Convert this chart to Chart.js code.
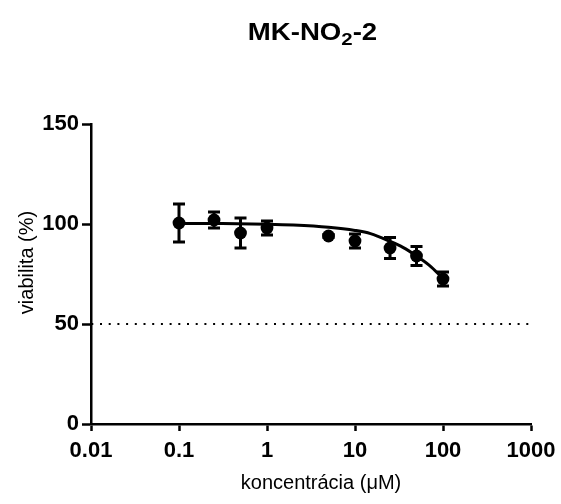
<!DOCTYPE html>
<html><head><meta charset="utf-8">
<script src="https://cdn.jsdelivr.net/npm/chart.js@4.4.1/dist/chart.umd.min.js"></script>
<style>html,body{margin:0;padding:0;background:#fff}#wrap{width:561px;height:504px}</style>
</head><body><div id="wrap"><canvas id="c" width="561" height="504"></canvas></div>
<script>
// ---- data ----
const titleParts = ['MK-NO', '2', '-2'];          // main, subscript, rest
const xAxisTitle = 'koncentrácia (μM)';
const yAxisTitle = 'viabilita (%)';
const concentrations = [0.1, 0.25, 0.5, 1, 5, 10, 25, 50, 100];
const viabilityMean  = [100.5, 102, 95.5, 98, 94, 91.5, 88, 84, 72.5];
const viabilitySD    = [9.5, 4, 7.5, 3.5, 0.8, 3.5, 5.3, 4.7, 3.5];
const fitX = [0.1, 0.3, 1, 2, 5, 10, 15, 25, 35, 50, 70, 100];
const fitY = [100.3, 100.2, 99.9, 99.5, 98.4, 96.8, 95.2, 91.3, 88.3, 84, 79.3, 72.8];
const referenceLevel = 50;
const xTickValues = [0.01, 0.1, 1, 10, 100, 1000];
const xTickLabels = ['0.01', '0.1', '1', '10', '100', '1000'];
const yTickValues = [0, 50, 100, 150];

const FONT = "'Liberation Sans', Arial, Helvetica, sans-serif";

const errorBars = {
  id: 'errorBars',
  afterDatasetsDraw(chart) {
    const {ctx, scales: {x, y}} = chart;
    ctx.save();
    ctx.strokeStyle = '#000';
    ctx.lineWidth = 3;
    ctx.lineCap = 'butt';
    concentrations.forEach((c, i) => {
      const px = x.getPixelForValue(c);
      const top = y.getPixelForValue(viabilityMean[i] + viabilitySD[i]);
      const bot = y.getPixelForValue(viabilityMean[i] - viabilitySD[i]);
      ctx.beginPath();
      ctx.moveTo(px, top); ctx.lineTo(px, bot);
      ctx.moveTo(px - 6, top); ctx.lineTo(px + 6, top);
      ctx.moveTo(px - 6, bot); ctx.lineTo(px + 6, bot);
      ctx.stroke();
    });
    ctx.restore();
  }
};

const textPlugin = {
  id: 'texts',
  afterDraw(chart) {
    const ctx = chart.ctx;
    const area = chart.chartArea;
    // title with subscript
    ctx.save();
    ctx.fillStyle = '#000';
    ctx.textBaseline = 'alphabetic';
    const big = 'bold 23px ' + FONT, small = 'bold 17px ' + FONT;
    const sx = 1.2;
    ctx.font = big; const w1 = ctx.measureText(titleParts[0]).width;
    const w3 = ctx.measureText(titleParts[2]).width;
    ctx.font = small; const w2 = ctx.measureText(titleParts[1]).width;
    const total = (w1 + w2 + w3) * sx;
    const cx = (area.left + area.right) / 2 + 1.5;
    ctx.translate(cx - total / 2, 39.5);
    ctx.scale(sx, 1);
    ctx.font = big; ctx.fillText(titleParts[0], 0, 0);
    ctx.font = small; ctx.fillText(titleParts[1], w1, 5);
    ctx.font = big; ctx.fillText(titleParts[2], w1 + w2, 0);
    ctx.restore();
    // axis titles
    ctx.save();
    ctx.fillStyle = '#000';
    ctx.font = '20px ' + FONT;
    ctx.textAlign = 'center';
    ctx.textBaseline = 'middle';
    ctx.fillText(xAxisTitle, (area.left + area.right) / 2 + 10, 483);
    ctx.translate(27.5, 262.5);
    ctx.rotate(-Math.PI / 2);
    ctx.fillText(yAxisTitle, 0, 0);
    ctx.restore();
  }
};

new Chart(document.getElementById('c'), {
  type: 'scatter',
  data: {
    datasets: [
      {
        type: 'line',
        data: [{x: xTickValues[0], y: referenceLevel}, {x: xTickValues[xTickValues.length - 1], y: referenceLevel}],
        borderColor: '#000', borderWidth: 2, borderDash: [2, 6.7], borderDashOffset: 8.4,
        pointRadius: 0, fill: false
      },
      {
        type: 'line',
        data: fitX.map((v, i) => ({x: v, y: fitY[i]})),
        borderColor: '#000', borderWidth: 3, pointRadius: 0, fill: false,
        cubicInterpolationMode: 'monotone'
      },
      {
        data: concentrations.map((v, i) => ({x: v, y: viabilityMean[i]})),
        backgroundColor: '#000', borderWidth: 0, pointRadius: 6.4, pointStyle: 'circle'
      }
    ]
  },
  options: {
    responsive: false,
    animation: false,
    events: [],
    layout: {padding: {top: 124, right: 30, left: 0, bottom: 0}},
    plugins: {legend: {display: false}, tooltip: {enabled: false}, title: {display: false}},
    scales: {
      x: {
        type: 'logarithmic',
        min: xTickValues[0], max: xTickValues[xTickValues.length - 1],
        afterFit(s) { s.height = 80; s.paddingLeft = 0; s.paddingRight = 0; },
        afterBuildTicks(s) { s.ticks = xTickValues.map(v => ({value: v})); },
        border: {display: true, color: '#000', width: 2.5},
        grid: {drawOnChartArea: false, drawTicks: true, tickLength: 7, tickWidth: 2.5, tickColor: '#000'},
        ticks: {
          autoSkip: false, maxRotation: 0, minRotation: 0, padding: 9, color: '#000',
          font: {family: FONT, size: 22, weight: 'bold', lineHeight: 1},
          callback: (v, i) => xTickLabels[i]
        },
        title: {display: false, text: xAxisTitle}
      },
      y: {
        min: yTickValues[0], max: yTickValues[yTickValues.length - 1],
        afterFit(s) { s.width = 91; s.paddingTop = 0; s.paddingBottom = 0; },
        afterBuildTicks(s) { s.ticks = yTickValues.map(v => ({value: v})); },
        border: {display: true, color: '#000', width: 2.5},
        grid: {drawOnChartArea: false, drawTicks: true, tickLength: 9, tickWidth: 2.5, tickColor: '#000'},
        ticks: {
          padding: 3, color: '#000',
          font: {family: FONT, size: 22, weight: 'bold', lineHeight: 1},
          callback: v => String(v)
        },
        title: {display: false, text: yAxisTitle}
      }
    }
  },
  plugins: [errorBars, textPlugin]
});
</script></body></html>
